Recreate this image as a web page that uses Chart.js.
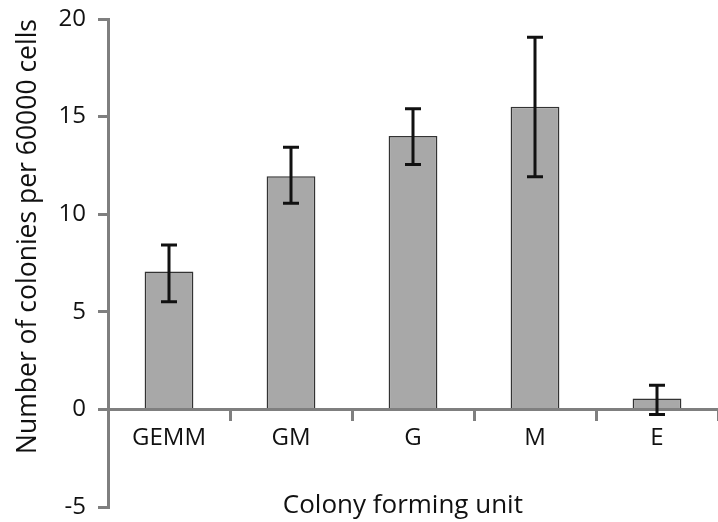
<!DOCTYPE html>
<html>
<head>
<meta charset="utf-8">
<script src="https://cdn.jsdelivr.net/npm/chart.js@4.4.1/dist/chart.umd.min.js"></script>
<style>
  html, body { margin: 0; padding: 0; background: #ffffff; overflow: hidden; }
  #wrap { position: relative; width: 718px; height: 522px; }
</style>
</head>
<body>
<div id="wrap"><canvas id="chart"></canvas></div>
<script>
// Colony counts per colony forming unit type
const categories = ['GEMM', 'GM', 'G', 'M', 'E'];
const colonyMeans = [7.07, 11.95, 14.0, 15.5, 0.56];
const errorUpper = [8.42, 13.43, 15.4, 19.07, 1.24];
const errorLower = [5.52, 10.56, 12.55, 11.92, -0.26];
const yTicks = [-5, 0, 5, 10, 15, 20];

const xTitle = 'Colony forming unit';
const yTitle = 'Number of colonies per 60000 cells';

const axisGray = '#7f7f7f';
const textColor = '#111111';
const fontFamily = '"Open Sans", "DejaVu Sans", sans-serif';

// Vertical error bars with caps, placed from the bar elements and the y scale
const errorBarPlugin = {
  id: 'errorBars',
  afterDraw(chart) {
    const meta = chart.getDatasetMeta(0);
    const yScale = chart.scales.y;
    const ctx = chart.ctx;
    ctx.save();
    ctx.strokeStyle = '#111111';
    ctx.lineWidth = 3;
    ctx.lineCap = 'butt';
    meta.data.forEach((bar, i) => {
      const x = bar.x;
      const yHi = yScale.getPixelForValue(errorUpper[i]);
      const yLo = yScale.getPixelForValue(errorLower[i]);
      const cap = 8;
      ctx.beginPath();
      ctx.moveTo(x, yHi);
      ctx.lineTo(x, yLo);
      ctx.moveTo(x - cap, yHi);
      ctx.lineTo(x + cap, yHi);
      ctx.moveTo(x - cap, yLo);
      ctx.lineTo(x + cap, yLo);
      ctx.stroke();
    });
    ctx.restore();
  }
};

new Chart(document.getElementById('chart'), {
  type: 'bar',
  data: {
    labels: categories,
    datasets: [{
      data: colonyMeans,
      backgroundColor: '#a8a8a8',
      borderColor: '#333333',
      borderWidth: 1.5,
      barPercentage: 0.4,
      categoryPercentage: 1.0
    }]
  },
  options: {
    responsive: true,
    maintainAspectRatio: false,
    animation: false,
    layout: { padding: { top: 19, bottom: 15, left: 0, right: -5 } },
    plugins: {
      legend: { display: false },
      tooltip: { enabled: false }
    },
    scales: {
      x: {
        position: { y: 0 },
        z: 1,
        offset: true,
        afterFit(scale) {
          scale.paddingLeft = 0;
          scale.paddingRight = 0;
          scale.paddingTop = 0;
          scale.paddingBottom = 0;
        },
        grid: {
          display: true,
          offset: true,
          drawOnChartArea: false,
          drawTicks: true,
          tickLength: 10,
          color: axisGray,
          lineWidth: 3
        },
        border: { display: true, color: axisGray, width: 3 },
        ticks: {
          color: textColor,
          padding: 4,
          font: { family: fontFamily, size: 24 }
        },
        title: {
          display: true,
          text: xTitle + '   ',
          color: textColor,
          font: { family: fontFamily, size: 26 },
          padding: { top: 34, bottom: 0 }
        }
      },
      y: {
        min: -5,
        max: 20,
        z: 1,
        afterBuildTicks(scale) {
          scale.ticks = yTicks.map(v => ({ value: v }));
        },
        afterFit(scale) {
          scale.width = 108;
          scale.paddingTop = 0;
          scale.paddingBottom = 0;
        },
        grid: {
          display: true,
          drawOnChartArea: false,
          drawTicks: true,
          tickLength: 10,
          color: axisGray,
          lineWidth: 3
        },
        border: { display: true, color: axisGray, width: 3 },
        ticks: {
          color: textColor,
          padding: 12,
          font: { family: fontFamily, size: 24 }
        },
        title: {
          display: true,
          text: yTitle,
          align: 'end',
          color: textColor,
          font: { family: fontFamily, size: 26.5 },
          padding: { top: 13, bottom: 4 }
        }
      }
    }
  },
  plugins: [errorBarPlugin]
});
</script>
</body>
</html>
